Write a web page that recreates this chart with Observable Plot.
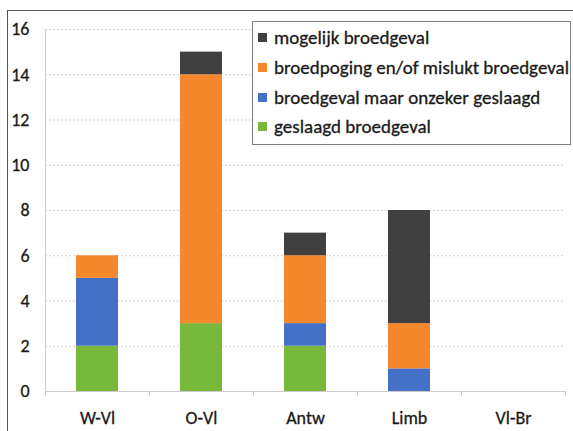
<!DOCTYPE html>
<html>
<head>
<meta charset="utf-8">
<script src="https://cdn.jsdelivr.net/npm/d3@7"></script>
<script src="https://cdn.jsdelivr.net/npm/@observablehq/plot@0.6"></script>
<style>
  html, body { margin: 0; padding: 0; background: #fff; }
  #wrap { position: relative; width: 573px; height: 431px; overflow: hidden; font-family: Carlito, Lato, sans-serif; }
  #frame { position: absolute; left: 7px; top: 10px; width: 600px; height: 460px; border-left: 1.5px solid #555; border-top: 1.5px solid #555; box-sizing: border-box; }
  #chart { position: absolute; left: 0; top: 0; }
  #chart svg text { font-size: 18px; stroke: #1a1a1a; stroke-width: 0.3px; }
  #legend { position: absolute; left: 252px; top: 21px; width: 319px; height: 124px; border: 1px solid #808080; box-sizing: border-box; background: #fff; padding-top: 1px; }
  .row { display: flex; align-items: center; height: 29.7px; font-size: 19px; color: #1a1a1a; white-space: nowrap; -webkit-text-stroke: 0.3px #1a1a1a; }
  .sw { width: 9px; height: 9px; margin-left: 5px; margin-right: 7px; flex: none; }
</style>
</head>
<body>
<div id="wrap">
  <div id="frame"></div>
  <div id="chart"></div>
  <div id="legend"></div>
</div>
<script>
const categories = ["W-Vl", "O-Vl", "Antw", "Limb", "Vl-Br"];
const seriesNames = ["geslaagd broedgeval", "broedgeval maar onzeker geslaagd", "broedpoging en/of mislukt broedgeval", "mogelijk broedgeval"];
const geslaagd = [2, 3, 2, 0, 0];
const onzeker = [3, 0, 1, 1, 0];
const mislukt = [1, 11, 3, 2, 0];
const mogelijk = [0, 1, 1, 5, 0];
const seriesColors = ["#78B83A", "#4471C6", "#F5872D", "#404040"];
const yTicks = [0, 2, 4, 6, 8, 10, 12, 14, 16];

const seriesValues = [geslaagd, onzeker, mislukt, mogelijk];
const data = [];
categories.forEach((c, i) => {
  seriesNames.forEach((s, j) => {
    data.push({cat: c, series: s, value: seriesValues[j][i]});
  });
});

const font = "Carlito, Lato, sans-serif";
const chart = Plot.plot({
  width: 573,
  height: 431,
  marginLeft: 45,
  marginRight: 8,
  marginTop: 29,
  marginBottom: 40,
  style: {fontFamily: font, fontSize: "18px", background: "transparent", color: "#1a1a1a"},
  x: {domain: categories, paddingInner: 0.6, paddingOuter: 0.3},
  y: {domain: [0, 16]},
  color: {domain: seriesNames, range: seriesColors},
  marks: [
    Plot.gridY(yTicks, {stroke: "#cfcfcf", strokeOpacity: 1, strokeDasharray: "2,2", strokeWidth: 1}),
    Plot.ruleY([0], {stroke: "#cccccc"}),
    Plot.ruleX([categories[0]], {x: d => d, dx: -52, y1: 0, y2: 16, stroke: "#cccccc"}),
    Plot.ruleX(categories, {x: d => d, dx: -52, y1: 0, y2: -0.2, stroke: "#cccccc"}),
    Plot.ruleX([categories[categories.length - 1]], {x: d => d, dx: 52, y1: 0, y2: -0.2, stroke: "#cccccc"}),
    Plot.barY(data, {x: "cat", y: "value", z: "series", fill: "series"}),
    Plot.axisY(yTicks, {tickSize: 0, tickPadding: 16, tickFormat: d => String(d), label: null}),
    Plot.axisX({tickSize: 0, tickPadding: 20, label: null})
  ]
});
document.getElementById("chart").appendChild(chart);

const legend = document.getElementById("legend");
for (let j = seriesNames.length - 1; j >= 0; j--) {
  const row = document.createElement("div");
  row.className = "row";
  const sw = document.createElement("span");
  sw.className = "sw";
  sw.style.background = seriesColors[j];
  const t = document.createElement("span");
  t.textContent = seriesNames[j];
  row.appendChild(sw);
  row.appendChild(t);
  legend.appendChild(row);
}
</script>
</body>
</html>
